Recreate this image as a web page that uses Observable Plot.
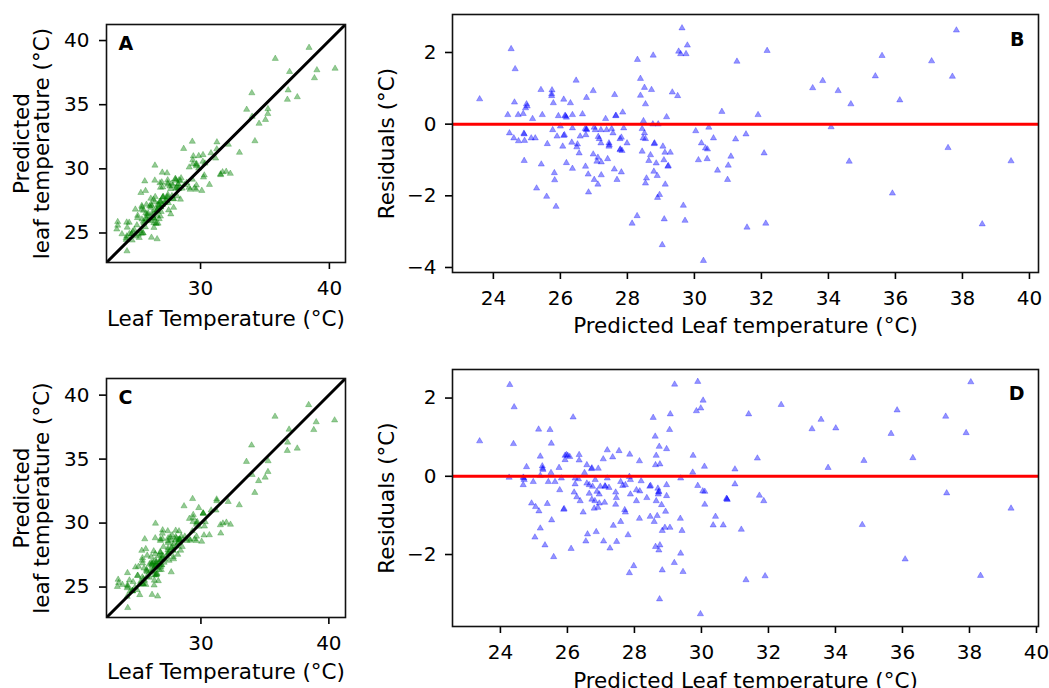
<!DOCTYPE html>
<html><head><meta charset="utf-8">
<script src="https://cdn.jsdelivr.net/npm/d3@7"></script>
<script src="https://cdn.jsdelivr.net/npm/@observablehq/plot@0.6"></script>
<style>
body{margin:0;background:#fff;}
#fig{position:relative;width:1049px;height:688px;overflow:hidden;background:#fff;}
.panel{position:absolute;}
.panel svg{display:block;max-width:none !important;}
</style></head><body><div id="fig"></div>
<script>
// ---- Data (panel B: predicted vs residual, model 1) ----
const predictedB = [
23.59,24.53,24.65,26.47,25.42,25.75,25.74,24.63,24.99,24.96,24.43,24.74,24.89,25.17,25.46,25.79,26.10,26.30,26.78,26.98,
27.62,25.94,26.14,26.18,26.36,26.66,26.36,26.00,25.77,25.90,26.10,24.48,24.61,24.75,24.91,24.93,25.13,25.25,25.61,26.07,
26.34,26.51,26.49,26.56,26.59,26.74,26.78,26.76,27.01,27.04,27.21,27.13,27.35,27.65,27.38,27.53,27.57,27.45,27.45,27.21,
27.16,27.78,27.78,26.98,27.12,27.09,27.22,27.41,27.61,27.22,27.69,27.01,27.12,26.83,26.75,26.84,26.18,26.36,25.82,25.83,
25.43,24.92,25.29,25.59,25.87,
27.86,27.89,27.82,27.99,27.79,27.84,27.82,28.30,28.77,29.63,29.53,29.59,29.75,29.79,28.39,28.51,28.39,28.72,28.54,29.34,
29.50,29.17,28.48,28.76,28.92,28.44,28.51,28.47,28.54,28.81,28.44,28.69,28.64,28.86,29.06,29.12,29.28,29.09,29.21,28.79,
28.89,28.57,28.54,29.13,28.96,28.90,29.67,28.29,28.14,29.10,29.72,29.04,30.27,30.04,30.43,30.57,30.21,30.33,30.39,30.12,
30.38,30.69,30.99,31.09,31.01,30.82,31.23,31.54,31.90,31.27,32.17,32.08,31.57,32.13,
33.53,33.83,34.29,34.67,34.08,34.62,35.40,35.60,36.13,35.91,37.08,37.70,37.82,37.57,38.59,39.45,
26.12,24.92,26.78,27.46,27.66,25.01,25.74,26.15,29.22,28.80
];
const residualB = [
0.70,2.10,1.54,1.22,0.96,0.95,0.79,0.61,0.56,0.45,0.26,0.26,0.29,0.15,0.26,0.59,0.69,0.59,0.74,0.93,
0.82,0.23,0.24,0.19,0.26,0.28,-0.11,-0.06,-0.16,-0.34,-0.32,-0.25,-0.39,-0.47,-0.26,-0.46,-0.39,-0.39,-0.55,-0.62,
-0.51,-0.56,-0.64,-0.81,-0.34,-0.13,-0.16,-0.30,-0.09,-0.16,-0.16,-0.35,0.15,0.23,-0.16,-0.13,-0.25,-0.53,-0.62,-0.53,
-0.41,-0.41,-0.72,-0.84,-0.93,-1.04,-1.06,-0.97,-1.26,-1.42,-1.55,-1.55,-1.68,-1.40,-1.18,-1.90,-1.08,-1.24,-1.36,-1.56,
-1.12,-1.02,-1.79,-2.02,-2.30,
0.33,-0.11,-0.37,-0.53,-0.70,-0.74,-1.34,1.80,1.92,2.68,2.03,1.96,1.96,2.20,1.27,1.02,0.80,0.96,0.56,0.89,
0.79,0.20,0.09,0.00,0.00,-0.13,-0.25,-0.39,-0.41,-0.53,-0.76,-0.86,-1.02,-1.09,-0.62,-0.79,-0.79,-1.00,-1.18,-1.32,
-1.44,-1.51,-1.65,-1.68,-1.97,-2.05,-2.27,-2.56,-2.77,-2.65,-2.69,-3.37,-3.81,-0.19,-0.09,-0.39,-0.53,-0.67,-0.70,-1.00,
-0.97,-1.29,-1.55,-0.90,-1.15,0.35,-0.42,-0.28,0.26,1.75,2.05,-0.81,-2.88,-2.77,
1.01,1.21,0.93,0.56,-0.08,-1.04,1.34,1.91,0.67,-1.93,1.76,1.33,2.62,-0.66,-2.79,-1.03,
-0.30,-0.28,-0.14,-0.58,0.24,0.50,0.84,0.22,-1.16,-0.55
];
// ---- Data (panel D: predicted vs residual, model 2) ----
const predictedD = [
23.38,24.28,24.41,24.39,24.26,24.68,24.71,24.68,24.78,24.98,24.93,25.05,25.15,25.03,25.19,25.33,25.59,25.53,25.40,25.14,
25.48,25.52,25.19,25.25,25.27,25.19,25.43,25.51,25.63,25.75,25.77,25.82,25.89,26.17,25.93,26.01,26.07,25.93,26.35,26.35,
26.23,26.33,26.23,26.20,26.28,26.38,26.47,26.58,26.72,26.92,26.51,26.58,26.65,26.65,26.75,26.83,26.98,26.88,26.95,26.73,
26.82,26.95,26.80,26.91,27.11,26.60,26.55,26.86,27.08,27.27,27.47,27.37,27.19,27.35,27.07,27.19,27.13,27.24,27.44,27.46,
27.44,27.54,27.59,27.59,26.11,
27.86,28.15,27.85,27.88,27.73,27.65,27.88,28.06,28.16,28.06,27.71,27.73,28.15,27.81,27.98,27.85,28.20,28.37,28.48,28.70,
28.73,28.71,28.96,28.96,28.65,28.81,28.93,28.47,28.68,28.59,28.83,28.91,29.06,28.63,28.76,28.73,29.19,28.83,29.45,29.38,
28.75,29.97,29.37,29.42,28.56,28.62,28.74,28.96,28.65,28.63,28.76,29.07,29.05,29.20,29.38,29.89,30.05,29.98,29.85,29.75,
29.74,30.09,29.89,30.04,30.10,30.10,30.42,30.35,30.65,30.76,31.00,31.00,31.19,31.41,31.67,31.73,31.86,31.33,31.90,32.38,
33.30,33.57,34.01,33.78,34.85,34.80,35.66,35.84,36.31,36.08,37.29,37.32,37.90,38.04,38.33,39.24,
24.70,25.26,25.97,26.73,25.90,27.12,28.46,28.72,30.77,30.75
];
const residualD = [
0.90,2.34,1.77,0.83,-0.03,-0.03,-0.09,-0.22,0.24,-0.14,-0.69,-0.78,-0.89,-1.56,-1.33,-1.76,-2.06,-1.12,-0.70,1.20,
1.19,0.84,0.51,0.26,0.17,0.02,-0.14,0.09,-0.14,0.22,-0.35,-0.05,-0.85,1.51,0.53,0.53,0.50,0.42,0.55,0.41,
-0.05,-0.07,-0.20,-0.41,-0.53,-0.63,-0.92,0.29,0.19,0.20,0.09,-0.18,-0.22,-0.44,-0.26,-0.09,-0.26,-0.39,-0.46,-0.59,
-0.63,-0.69,-0.82,-0.80,-0.67,-1.48,-1.66,-1.42,-1.66,-1.84,-1.67,-1.26,0.67,0.49,0.44,-0.05,-0.26,-0.29,-0.41,-0.55,
-0.72,0.65,-0.14,-1.16,-1.85,
0.56,0.39,-0.01,-0.09,-0.22,-0.24,-0.46,-0.35,-0.38,-0.63,-0.86,-0.92,-1.08,-1.50,-2.29,-2.47,-0.12,-0.55,-0.24,-0.31,
-0.39,-0.46,-0.22,-0.50,-0.63,-0.73,-0.90,-1.03,-1.01,-1.16,-1.39,-1.31,-1.31,-1.80,-1.76,-1.89,-2.21,-2.40,-2.44,-1.97,
-3.14,-3.52,-1.08,-1.39,1.50,1.02,0.76,0.70,0.53,0.29,0.31,1.59,1.19,2.35,-0.05,2.42,1.94,1.74,1.67,0.53,
0.10,0.25,-0.24,-0.38,-0.39,-0.72,-1.03,-1.25,-1.25,-0.58,0.18,-0.20,-1.36,1.59,0.46,-0.49,-0.63,-2.65,-2.55,1.83,
1.21,1.45,1.23,0.22,0.40,-1.24,1.09,1.69,0.47,-2.12,1.53,-0.43,1.11,2.41,-2.54,-0.82,
-0.05,0.20,0.55,0.21,-0.83,-0.25,-0.26,-0.41,-0.60,-0.57
];

// ---- Axis limits and ticks ----
const scatterDomainA = [22.7, 41.25];
const scatterDomainC = [22.62, 41.3];
const scatterTicksX = [30, 40];
const scatterTicksY = [25, 30, 35, 40];
const residualTicksX = [24, 26, 28, 30, 32, 34, 36, 38, 40];
const residualDomainXB = [22.78, 40.27];
const residualDomainXD = [22.57, 40.06];
const residualDomainYB = [-4.14, 3.06];
const residualDomainYD = [-3.84, 2.73];
const residualTicksYB = [-4, -2, 0, 2];
const residualTicksYD = [-2, 0, 2];
const zeroLine = [0];

// ---- Texts ----
const labelScatterX = "Leaf Temperature (°C)";
const labelScatterY = "Predicted\nleaf temperature (°C)";
const labelResidX = "Predicted Leaf temperature (°C)";
const labelResidY = "Residuals (°C)";

// Tables: observed leaf temperature = predicted + residual
const tableB = predictedB.map((p, i) => ({pred: p, resid: residualB[i], leaf: p + residualB[i]}));
const tableD = predictedD.map((p, i) => ({pred: p, resid: residualD[i], leaf: p + residualD[i]}));

const FONT = "DejaVu Sans";
const TICK_FS = 20;
const LABEL_FS = 21.5;
const fmt = d3.format("d");
const baseStyle = {fontFamily: FONT, fontSize: "20px", background: "white", color: "black", overflow: "visible"};

function scatterPanel({table, domain, letter, height, marginTop, marginBottom, letterDy, labelDy, color}) {
  const diagonal = domain;
  return Plot.plot({
    width: 360, height, marginLeft: 106, marginRight: 15, marginTop, marginBottom,
    style: baseStyle,
    x: {domain, label: null},
    y: {domain, label: null},
    marks: [
      Plot.axisX({ticks: scatterTicksX, tickFormat: fmt, tickSize: 7, tickPadding: 11, label: null, strokeWidth: 1.6, fontSize: TICK_FS}),
      Plot.axisY({ticks: scatterTicksY, tickFormat: fmt, tickSize: 7, tickPadding: 10, label: null, strokeWidth: 1.6, fontSize: TICK_FS}),
      Plot.dot(table, {x: "leaf", y: "pred", symbol: "triangle", r: 2.3, fill: color, fillOpacity: 0.42, stroke: color, strokeOpacity: 0.3, strokeWidth: 0.9}),
      Plot.line(diagonal, {x: d => d, y: d => d, stroke: "black", strokeWidth: 3, clip: true}),
      Plot.frame({stroke: "#111", strokeWidth: 1.6}),
      Plot.text([letter], {frameAnchor: "top-left", dx: 12, dy: letterDy, text: d => d, textAnchor: "start", lineAnchor: "top", fontWeight: "bold", fontSize: 19}),
      Plot.text([labelScatterX], {frameAnchor: "bottom", dy: labelDy, text: d => d, textAnchor: "middle", lineAnchor: "bottom", fontSize: LABEL_FS}),
      Plot.text([labelScatterY], {frameAnchor: "left", rotate: -90, dx: -57.7, text: d => d, textAnchor: "middle", lineAnchor: "bottom", lineHeight: 0.93, fontSize: LABEL_FS})
    ]
  });
}

function residualPanel({table, xDomain, yDomain, yTicks, letter, height, marginTop, marginBottom, letterDy, labelDy, color}) {
  return Plot.plot({
    width: 689, height, marginLeft: 92, marginRight: 11, marginTop, marginBottom,
    style: baseStyle,
    x: {domain: xDomain, label: null},
    y: {domain: yDomain, label: null},
    marks: [
      Plot.axisX({ticks: residualTicksX, tickFormat: fmt, tickSize: 7, tickPadding: 11, label: null, strokeWidth: 1.6, fontSize: TICK_FS}),
      Plot.axisY({ticks: yTicks, tickFormat: fmt, tickSize: 7, tickPadding: 9, label: null, strokeWidth: 1.6, fontSize: TICK_FS}),
      Plot.dot(table, {x: "pred", y: "resid", symbol: "triangle", r: 2.3, fill: color, fillOpacity: 0.42, stroke: color, strokeOpacity: 0.3, strokeWidth: 0.9}),
      Plot.ruleY(zeroLine, {stroke: "#ff0000", strokeWidth: 3}),
      Plot.frame({stroke: "#111", strokeWidth: 1.6}),
      Plot.text([letter], {frameAnchor: "top-right", dx: -14, dy: letterDy, text: d => d, textAnchor: "end", lineAnchor: "top", fontWeight: "bold", fontSize: 19}),
      Plot.text([labelResidX], {frameAnchor: "bottom", dy: labelDy, text: d => d, textAnchor: "middle", lineAnchor: "bottom", fontSize: LABEL_FS}),
      Plot.text([labelResidY], {frameAnchor: "left", rotate: -90, dx: -58.3, text: d => d, textAnchor: "middle", lineAnchor: "bottom", fontSize: LABEL_FS})
    ]
  });
}

function place(node, left, top) {
  const d = document.createElement("div");
  d.className = "panel";
  d.style.left = left + "px";
  d.style.top = top + "px";
  d.appendChild(node);
  document.getElementById("fig").appendChild(d);
}

place(scatterPanel({table: tableB, domain: scatterDomainA, letter: "A", height: 340, marginTop: 24, marginBottom: 78, letterDy: 12, labelDy: 63, color: "#008000"}), 0, 0);
place(residualPanel({table: tableB, xDomain: residualDomainXB, yDomain: residualDomainYB, yTicks: residualTicksYB, letter: "B", height: 340, marginTop: 14, marginBottom: 68, letterDy: 17.5, labelDy: 60, color: "#0000ff"}), 360, 0);
place(scatterPanel({table: tableD, domain: scatterDomainC, letter: "C", height: 338, marginTop: 28, marginBottom: 71, letterDy: 11.5, labelDy: 61, color: "#008000"}), 0, 350);
place(residualPanel({table: tableD, xDomain: residualDomainXD, yDomain: residualDomainYD, yTicks: residualTicksYD, letter: "D", height: 338, marginTop: 19, marginBottom: 62, letterDy: 17, labelDy: 61, color: "#0000ff"}), 360, 350);
</script></body></html>
